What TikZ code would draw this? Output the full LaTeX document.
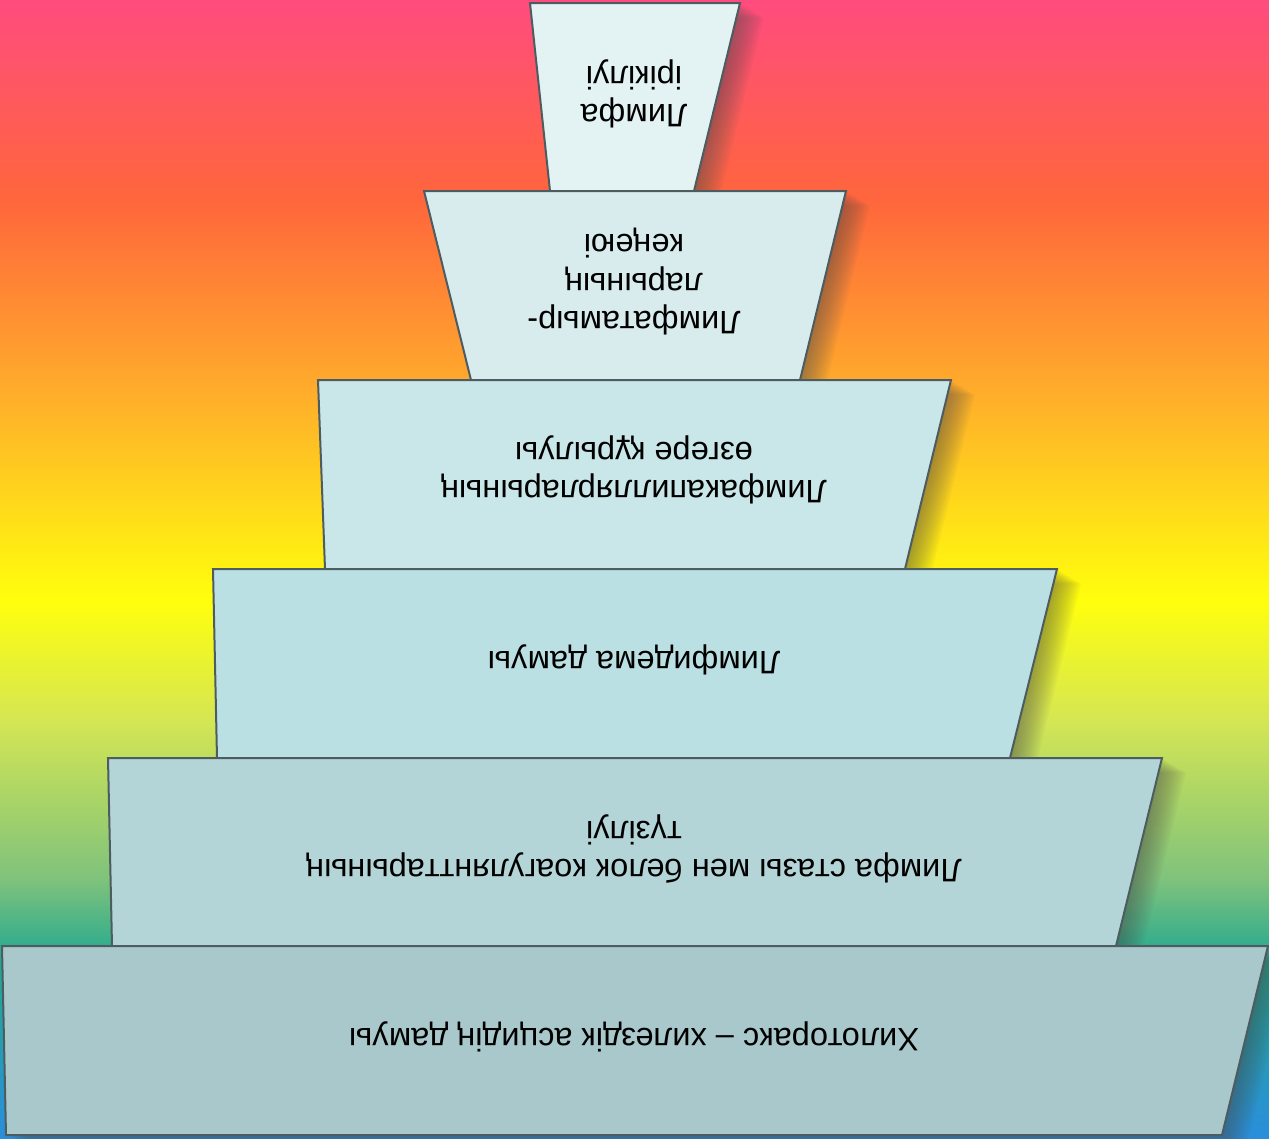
\documentclass[tikz,border=0pt]{standalone}
\usepackage{fontspec}
\setmainfont{Liberation Sans}
\usepackage{tikz}
\usetikzlibrary{calc}

\definecolor{bgpink}{HTML}{FF4C7E}
\definecolor{bgred}{HTML}{FF663C}
\definecolor{bgorange}{HTML}{FFB02A}
\definecolor{bgyellow}{HTML}{FFFF0C}
\definecolor{bglime}{HTML}{D4E654}
\definecolor{bggreen}{HTML}{7EC27C}
\definecolor{bgteal}{HTML}{22A890}
\definecolor{bgblue}{HTML}{2A8EDC}
\definecolor{edgec}{HTML}{4C5C60}
\definecolor{fillA}{HTML}{E3F3F3}
\definecolor{fillB}{HTML}{D8ECEE}
\definecolor{fillC}{HTML}{C9E6E8}
\definecolor{fillD}{HTML}{BAE0E3}
\definecolor{fillE}{HTML}{B3D5D8}
\definecolor{fillF}{HTML}{A8C8CB}

% trapezoids, in pixel coordinates
\def\levA{(530,3) -- (740,3) -- (694,191) -- (550,191) -- cycle}
\def\levB{(424,191) -- (846,191) -- (800,380) -- (471,380) -- cycle}
\def\levC{(318,380) -- (951,380) -- (905,569) -- (325,569) -- cycle}
\def\levD{(213,569) -- (1057,569) -- (1010,758) -- (217,758) -- cycle}
\def\levE{(108,758) -- (1162,758) -- (1116,946) -- (112,946) -- cycle}
\def\levF{(2,946) -- (1268,946) -- (1222,1135) -- (6,1135) -- cycle}

\begin{document}
\begin{tikzpicture}[x=1pt,y=-1pt,
    tier/.style={draw=edgec,line width=2pt,line join=miter},
    shadowc/.style={fill=black!70,fill opacity=0.05},
    lbl/.style={rotate=180,align=center,font=\fontsize{32.5}{38.5}\selectfont,text=black}]
  \useasboundingbox (0,0) rectangle (1269,1138);
  \clip (0,0) rectangle (1269,1138);
  % background
  \shade[top color=bgpink,bottom color=bgred] (0,0) rectangle (1269,201);
  \shade[top color=bgred,bottom color=bgorange] (0,200) rectangle (1269,401);
  \shade[top color=bgorange,bottom color=bgyellow] (0,400) rectangle (1269,601);
  \shade[top color=bgyellow,bottom color=bglime] (0,600) rectangle (1269,721);
  \shade[top color=bglime,bottom color=bggreen] (0,720) rectangle (1269,881);
  \shade[top color=bggreen,bottom color=bgteal] (0,880) rectangle (1269,961);
  \shade[top color=bgteal,bottom color=bgblue] (0,960) rectangle (1269,1138);
  % tiers with shadows
  \foreach \s in {2,4,...,24} \fill[shadowc,shift={(\s,0.6*\s)}] \levA;
  \filldraw[tier,fill=fillA] \levA;
  \foreach \s in {2,4,...,24} \fill[shadowc,shift={(\s,0.6*\s)}] \levB;
  \filldraw[tier,fill=fillB] \levB;
  \foreach \s in {2,4,...,24} \fill[shadowc,shift={(\s,0.6*\s)}] \levC;
  \filldraw[tier,fill=fillC] \levC;
  \foreach \s in {2,4,...,24} \fill[shadowc,shift={(\s,0.6*\s)}] \levD;
  \filldraw[tier,fill=fillD] \levD;
  \foreach \s in {2,4,...,24} \fill[shadowc,shift={(\s,0.6*\s)}] \levE;
  \filldraw[tier,fill=fillE] \levE;
  \foreach \s in {2,4,...,24} \fill[shadowc,shift={(\s,0.6*\s)}] \levF;
  \filldraw[tier,fill=fillF] \levF;
  % labels
  \node[lbl] (filtr) at (634,94) {Лимфа\\ірікілуі};
  \node[lbl] (vessel) at (634,282) {Лимфатамыр-\\ларының\\кеңеюі};
  \node[lbl] (capil) at (634,470) {Лимфакапиллярларының\\өзгере құрылуы};
  \node[lbl] (edema) at (634,660) {Лимфидема дамуы};
  \node[lbl] (stasis) at (634,849) {Лимфа стазы мен белок коагулянттарының\\түзілуі};
  \node[lbl] (chylo) at (634,1037) {Хилоторакс – хилездік асцидің дамуы};
\end{tikzpicture}
\end{document}
